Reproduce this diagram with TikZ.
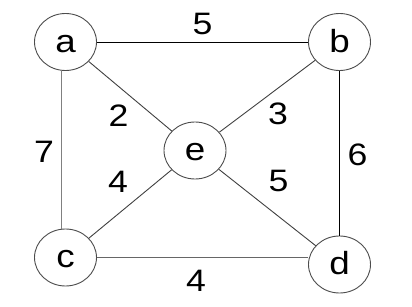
\documentclass[tikz,border=0pt]{standalone}
\usepackage{fontspec}
\usepackage{graphicx}
\setmainfont{Liberation Sans}
\usetikzlibrary{shapes.geometric}
\newcommand{\widetxt}[1]{\scalebox{1.15}[1]{#1}}
\begin{document}
\begin{tikzpicture}[x=1pt,y=-1pt,
  vert/.style={draw=black!70, line width=0.9pt, ellipse, minimum width=62pt, minimum height=57pt, inner sep=0pt,
    font=\fontsize{32}{36}\selectfont, text height=20.5pt, text depth=0pt},
  wlabel/.style={inner sep=0pt, font=\fontsize{31}{34}\selectfont},
  edge/.style={draw=black!75, line width=0.9pt}]
\useasboundingbox (0,0) rectangle (412,307);
\node[vert] (a) at (65.5,42) {\widetxt{a}};
\node[vert] (b) at (339.5,42) {\widetxt{b}};
\node[vert] (e) at (195,150.5) {\widetxt{e}};
\node[vert] (c) at (65.5,257.5) {\widetxt{c}};
\node[vert] (d) at (339.5,264.5) {\widetxt{d}};
\draw[edge, draw=black] (a) -- (b);
\draw[edge, draw=black!50] ([xshift=-4.5pt]a.south) -- ([xshift=-4.5pt]c.north);
\draw[edge, draw=black] (b.south) -- (d.north);
\draw[edge, draw=black!60] (c.east) -- (c.east -| d.west);
\draw[edge] (a) -- (e);
\draw[edge] (e) -- (b);
\draw[edge] (c) -- (e);
\draw[edge] (e) -- (d);
\node[wlabel] (l1) at (202.5,24) {\widetxt{5}};
\node[wlabel] (l2) at (118.5,116) {\widetxt{2}};
\node[wlabel] (l3) at (278,114) {\widetxt{3}};
\node[wlabel] (l4) at (44,152) {\widetxt{7}};
\node[wlabel] (l5) at (357.5,154.5) {\widetxt{6}};
\node[wlabel] (l6) at (118,182) {\widetxt{4}};
\node[wlabel] (l7) at (278.5,181) {\widetxt{5}};
\node[wlabel] (l8) at (196,281) {\widetxt{4}};
\end{tikzpicture}
\end{document}
